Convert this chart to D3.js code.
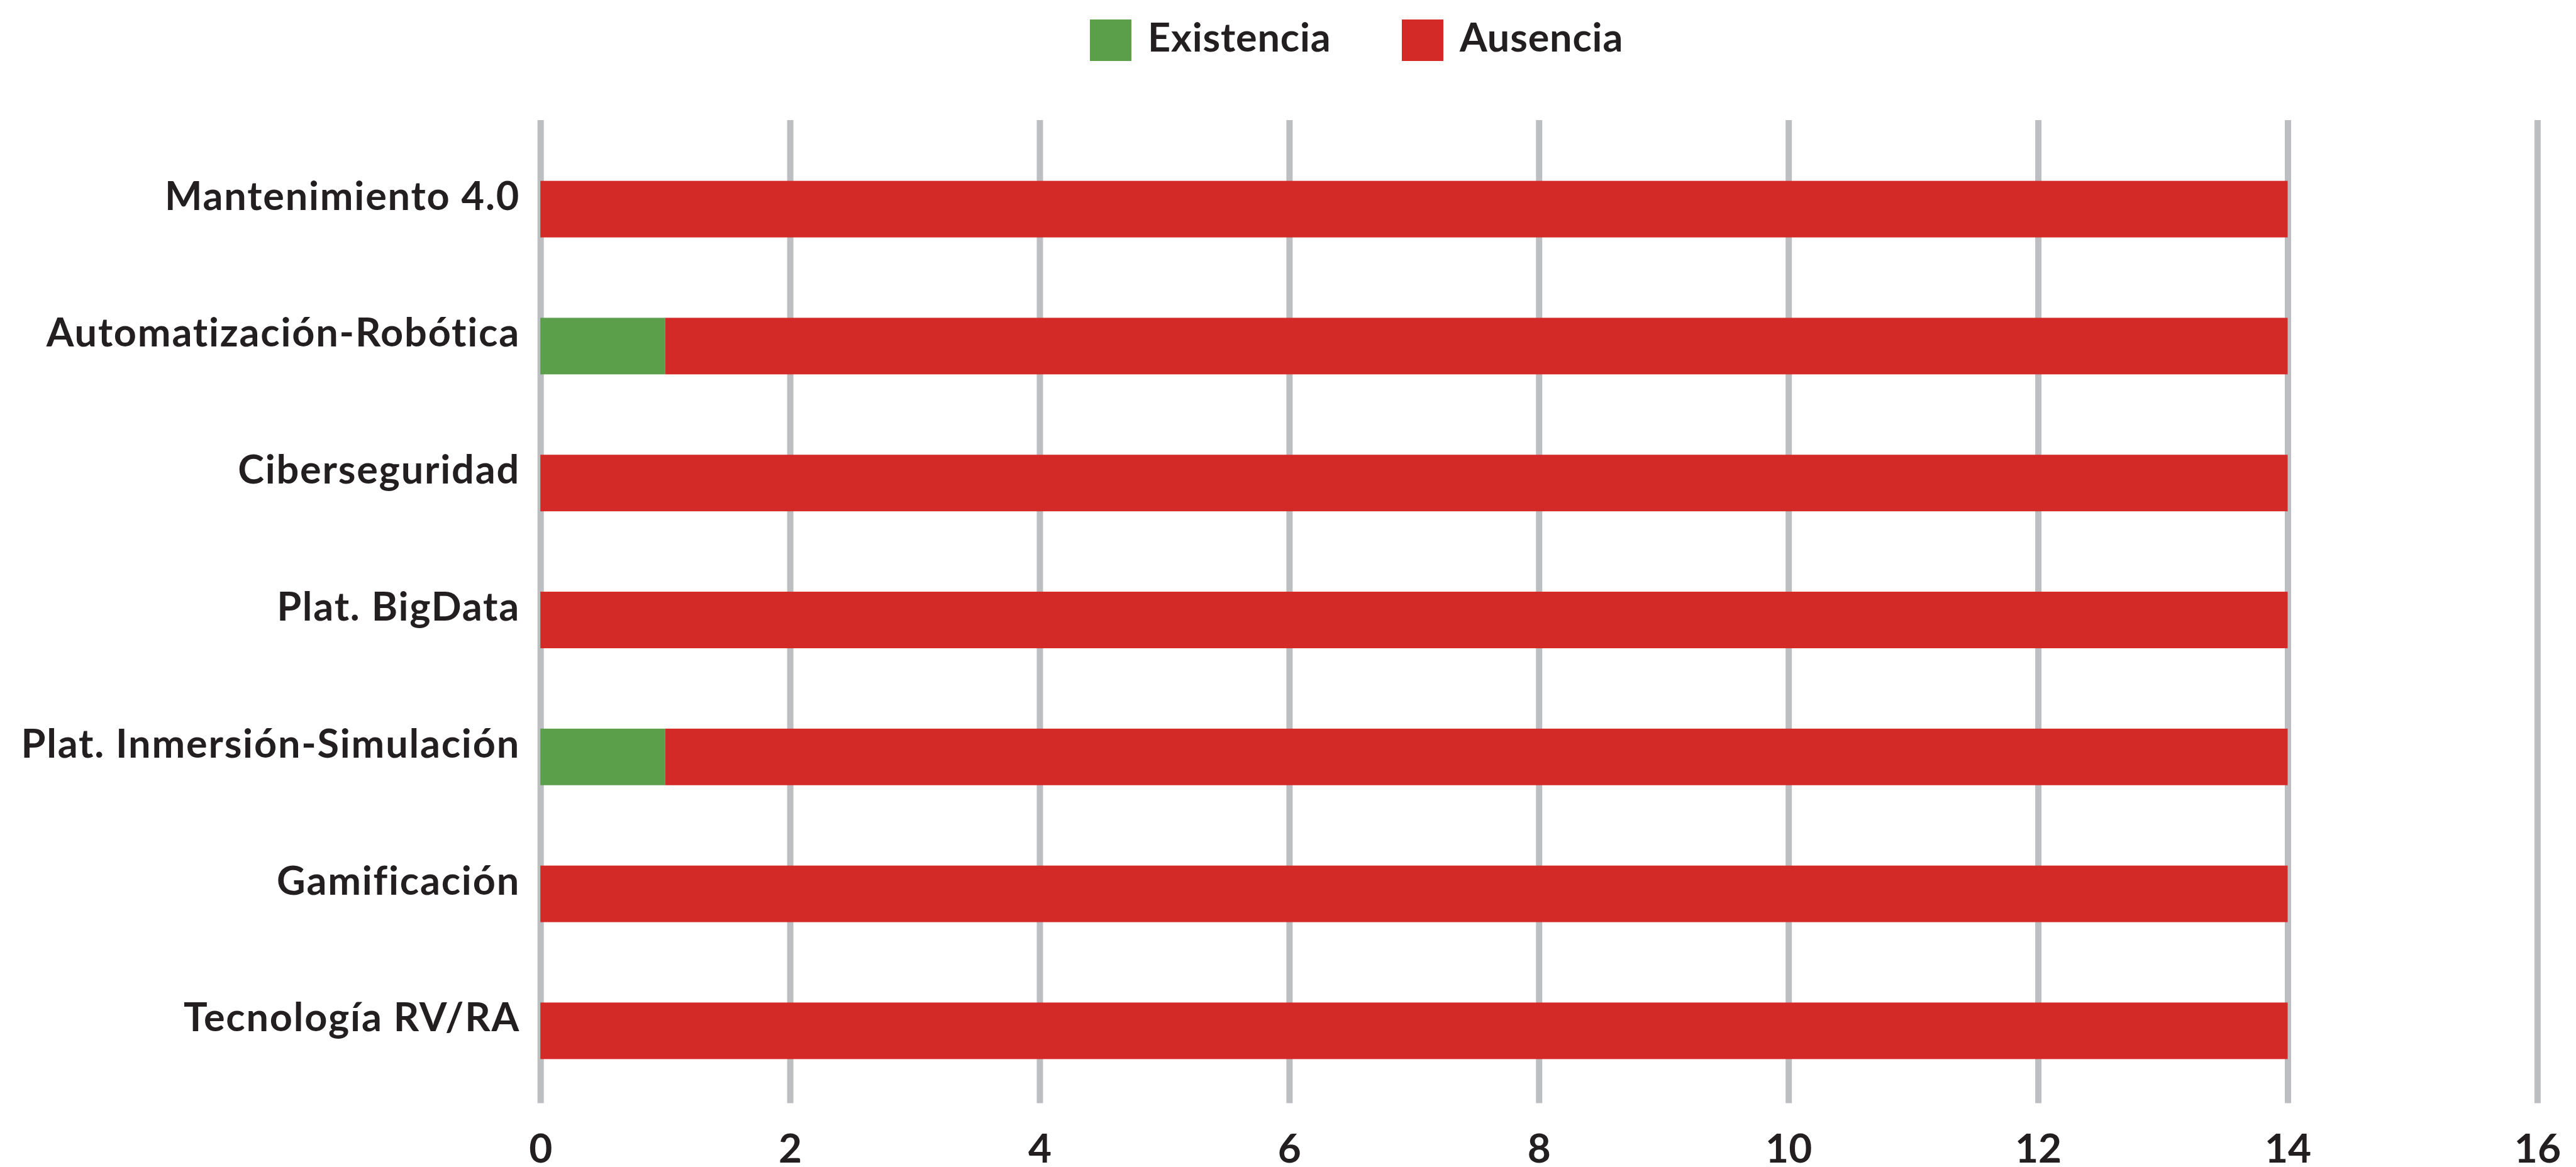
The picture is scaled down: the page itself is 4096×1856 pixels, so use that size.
<!DOCTYPE html>
<html>
<head>
<meta charset="utf-8">
<script src="https://cdn.jsdelivr.net/npm/d3@7"></script>
<style>
  body { margin: 0; background: #fff; }
  text { font-family: Lato, "Open Sans", sans-serif; font-weight: bold; fill: #231F20; }
</style>
</head>
<body>
<div id="container"></div>
<script>
const width = 4096;
const height = 1856;

const categories = [
    "Mantenimiento 4.0",
    "Automatización-Robótica",
    "Ciberseguridad",
    "Plat. BigData",
    "Plat. Inmersión-Simulación",
    "Gamificación",
    "Tecnología RV/RA"
];
const existencia = [0, 1, 0, 0, 1, 0, 0];
const ausencia = [14, 13, 14, 14, 13, 14, 14];
const seriesNames = ["Existencia", "Ausencia"];
const seriesColors = ["#5B9F4B", "#D42A27"];
const xTicks = [0, 2, 4, 6, 8, 10, 12, 14, 16];

const gridTop = 191;
const gridBottom = 1754.5;

const svg = d3.select("#container").append("svg")
    .attr("width", width)
    .attr("height", height);

const x = d3.scaleLinear()
    .domain([0, 16])
    .range([859.2, 4034.4]);

const y = d3.scaleBand()
    .domain(categories)
    .range([223.7, 1748.3])
    .paddingInner(0.587)
    .paddingOuter(0.2935);

// gridlines + tick labels
const xAxis = svg.append("g")
    .attr("transform", `translate(0,${gridBottom})`)
    .call(d3.axisBottom(x)
        .tickValues(xTicks)
        .tickFormat(d3.format("d"))
        .tickSizeInner(-(gridBottom - gridTop))
        .tickSizeOuter(0));

xAxis.select(".domain").remove();
xAxis.selectAll(".tick line")
    .attr("stroke", "#BDBEC1")
    .attr("stroke-width", 10);
xAxis.selectAll(".tick text")
    .attr("y", 94)
    .attr("dy", 0)
    .attr("font-size", 64)
    .attr("font-family", null)
    .attr("fill", "#231F20");

// stacked bars
const rows = categories.map((c, i) => ({ cat: c, Existencia: existencia[i], Ausencia: ausencia[i] }));
const stacked = d3.stack().keys(seriesNames)(rows);

svg.append("g")
    .selectAll("g")
    .data(stacked)
    .join("g")
    .attr("fill", (d, i) => seriesColors[i])
    .selectAll("rect")
    .data(d => d)
    .join("rect")
    .attr("x", d => x(d[0]))
    .attr("y", d => y(d.data.cat))
    .attr("width", d => x(d[1]) - x(d[0]))
    .attr("height", y.bandwidth());

// category labels
svg.append("g")
    .selectAll("text")
    .data(categories)
    .join("text")
    .attr("x", 827)
    .attr("y", d => y(d) + y.bandwidth() / 2 + 1)
    .attr("text-anchor", "end")
    .attr("font-size", 63)
    .attr("letter-spacing", 1.8)
    .text(d => d);

// legend
const legendX = [1733, 2229];
const legend = svg.append("g")
    .selectAll("g")
    .data(seriesNames)
    .join("g")
    .attr("transform", (d, i) => `translate(${legendX[i]},31)`);

legend.append("rect")
    .attr("width", 66)
    .attr("height", 66)
    .attr("fill", (d, i) => seriesColors[i]);

legend.append("text")
    .attr("x", 92)
    .attr("y", 51)
    .attr("font-size", 63)
    .attr("letter-spacing", 0.8)
    .text(d => d);
</script>
</body>
</html>
